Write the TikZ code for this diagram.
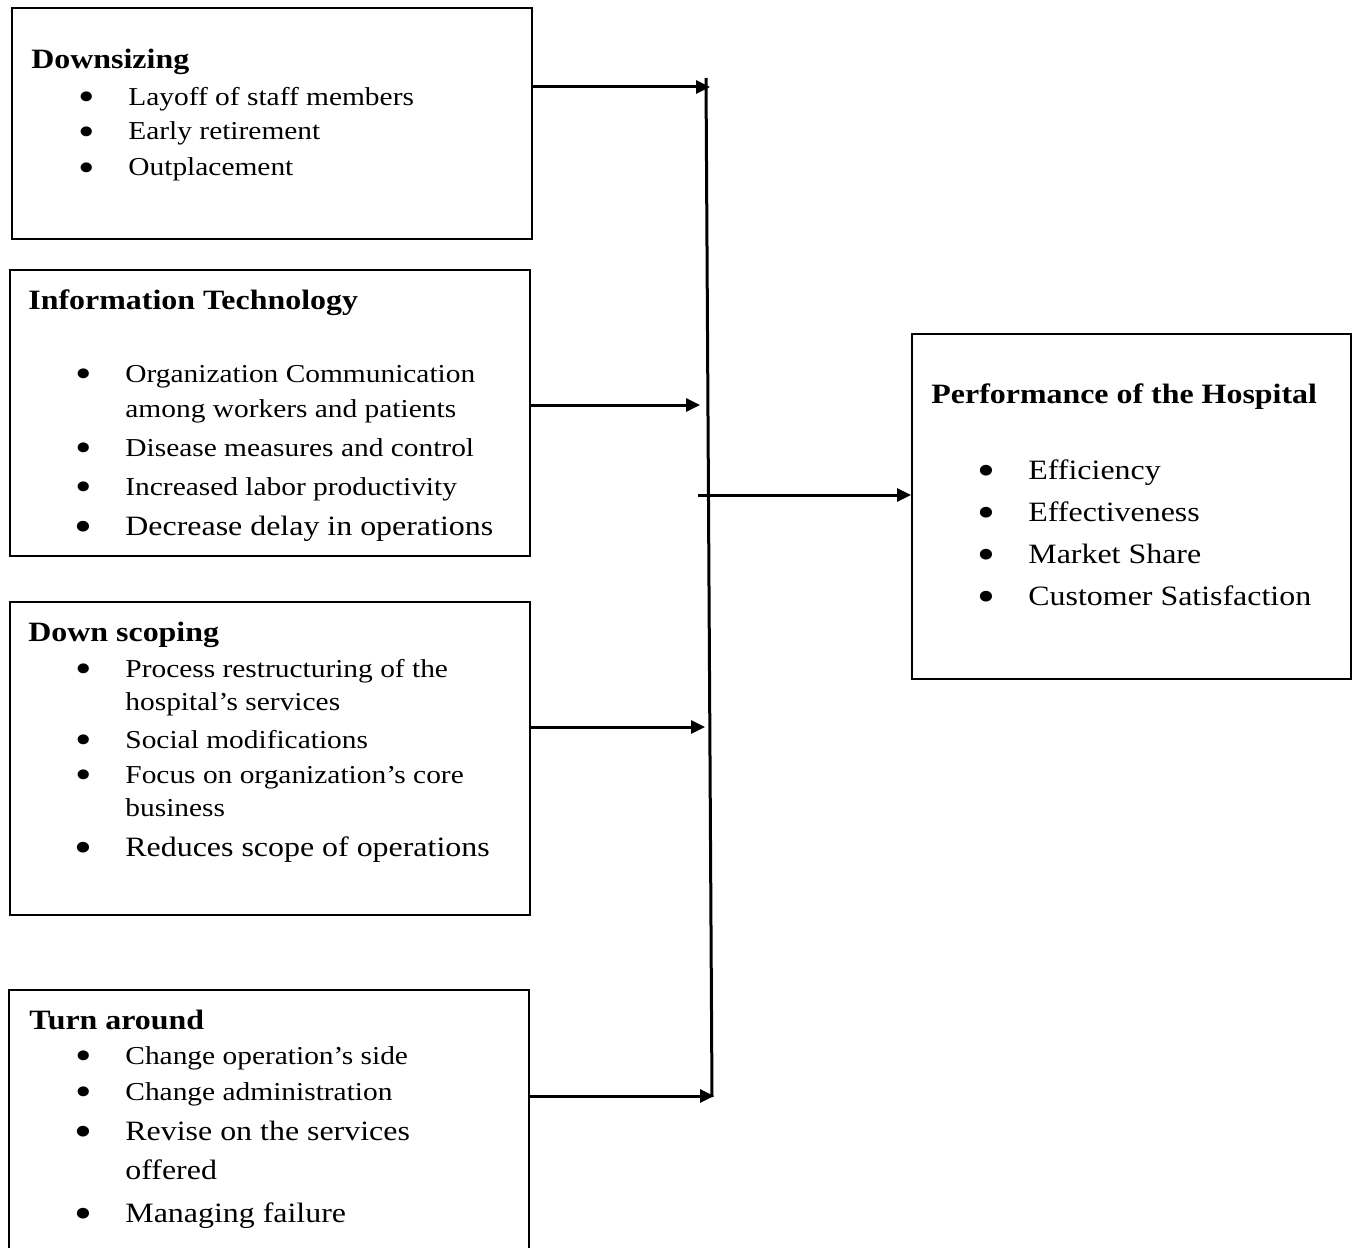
\documentclass[tikz,border=0pt]{standalone}
\usepackage{graphicx}
\usepackage{fontspec}
\setmainfont{Liberation Serif}[FakeStretch=1.14]
\usetikzlibrary{arrows.meta}
\newcommand{\blt}{\llap{\raisebox{-0.22em}{\scalebox{1.6}{\textbullet}}\hspace{16.5pt}}}
\tikzset{%
  box/.style = {rectangle,draw,line width=1pt,anchor=north west,
        inner sep=0pt},
  head/.style = {anchor=base west,inner sep=0pt,
        font=\fontsize{14}{16}\selectfont\bfseries},
  item/.style = {anchor=base west,inner sep=0pt,
        font=\fontsize{12.9}{15}\selectfont},
  bigitem/.style = {item,font=\fontsize{14}{16}\selectfont},
  feed/.style = {-{Triangle[length=7pt,width=6.5pt]},line width=1.5pt},
  bus/.style = {line width=1.5pt}
}
\begin{document}
\begin{tikzpicture}[x=0.5pt,y=-0.5pt]
  \useasboundingbox (0,0) rectangle (1354,1247);
  % boxes
  \node[box,minimum width=260pt,minimum height=115.5pt] (down) at (11,7) {};
  \node[box,minimum width=260pt,minimum height=143pt] (info) at (9,269) {};
  \node[box,minimum width=260pt,minimum height=156.5pt] (scope) at (9,601) {};
  \node[box,draw=none,minimum width=259pt,minimum height=128.5pt] (turn) at (9,990) {};
  \draw[line width=1pt] (turn.south west) -- (turn.north west)
    -- (turn.north east) -- (turn.south east);
  \node[box,minimum width=219.5pt,minimum height=172.5pt] (perf) at (911,333) {};

  % downsizing
  \node[head] (down-h) at (31,69) {Downsizing};
  \node[item] (down-1) at (128,105) {\blt Layoff of staff members};
  \node[item] (down-2) at (128,140) {\blt Early retirement};
  \node[item] (down-3) at (128,176) {\blt Outplacement};

  % information technology
  \node[head] (info-h) at (28,309) {Information Technology};
  \node[item] (info-1) at (125,382) {\blt Organization Communication};
  \node[item] (info-1b) at (125,417) {among workers and patients};
  \node[item] (info-2) at (125,456) {\blt Disease measures and control};
  \node[item] (info-3) at (125,495) {\blt Increased labor productivity};
  \node[bigitem] (info-4) at (125,535) {\blt Decrease delay in operations};

  % down scoping
  \node[head] (scope-h) at (28,641) {Down scoping};
  \node[item] (scope-1) at (125,677) {\blt Process restructuring of the};
  \node[item] (scope-1b) at (125,710) {hospital’s services};
  \node[item] (scope-2) at (125,748) {\blt Social modifications};
  \node[item] (scope-3) at (125,783) {\blt Focus on organization’s core};
  \node[item] (scope-3b) at (125,816) {business};
  \node[bigitem] (scope-4) at (125,856) {\blt Reduces scope of operations};

  % turn around
  \node[head] (turn-h) at (29,1029) {Turn around};
  \node[item] (turn-1) at (125,1064) {\blt Change operation’s side};
  \node[item] (turn-2) at (125,1100) {\blt Change administration};
  \node[bigitem] (turn-3) at (125,1140) {\blt Revise on the services};
  \node[bigitem] (turn-3b) at (125,1179) {offered};
  \node[bigitem] (turn-4) at (125,1222) {\blt Managing failure};

  % performance
  \node[head] (perf-h) at (931,403) {Performance of the Hospital};
  \node[bigitem] (perf-1) at (1028,479) {\blt Efficiency};
  \node[bigitem] (perf-2) at (1028,521) {\blt Effectiveness};
  \node[bigitem] (perf-3) at (1028,563) {\blt Market Share};
  \node[bigitem] (perf-4) at (1028,605) {\blt Customer Satisfaction};

  % connectors
  \coordinate (bustop) at (706,78);
  \coordinate (busbot) at (712,1097);
  \draw[bus] (bustop) -- (busbot);
  \coordinate (t-down) at (710,87);
  \coordinate (t-info) at (700,405);
  \coordinate (t-scope) at (705,727);
  \coordinate (t-turn) at (714,1096);
  \coordinate (s-perf) at (698,495);
  \draw[feed] (down.east |- t-down) -- (t-down);
  \draw[feed] (info.east |- t-info) -- (t-info);
  \draw[feed] (scope.east |- t-scope) -- (t-scope);
  \draw[feed] (turn.east |- t-turn) -- (t-turn);
  \draw[feed] (s-perf) -- (perf.west |- s-perf);
\end{tikzpicture}
\end{document}
